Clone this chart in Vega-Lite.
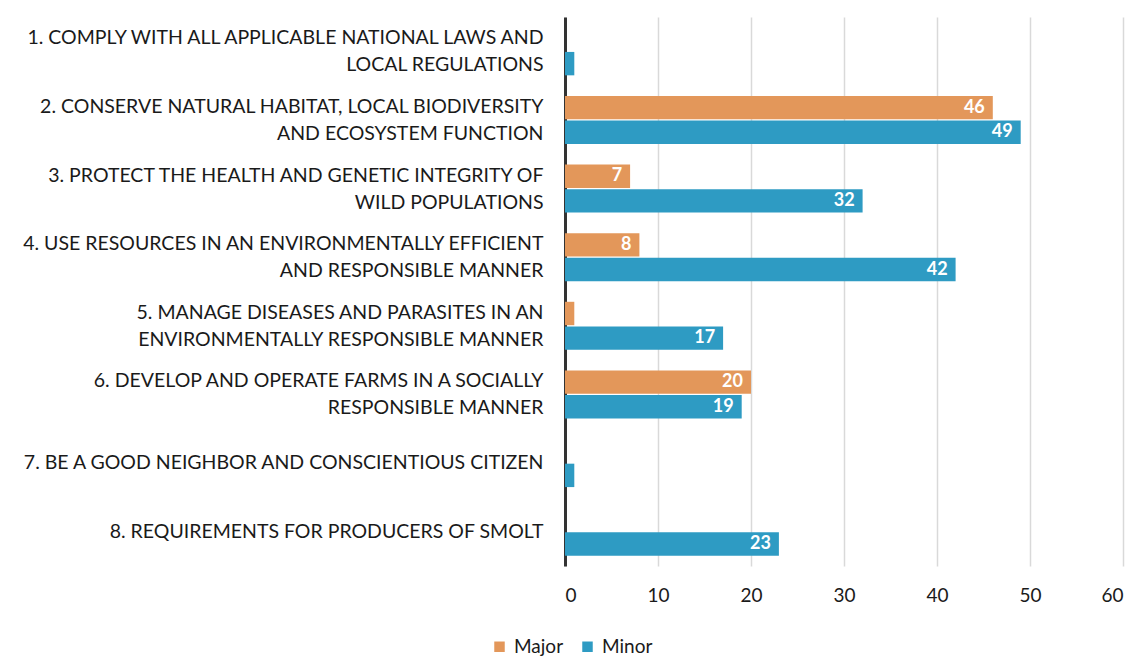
{
  "$schema": "https://vega.github.io/schema/vega-lite/v6.json",
  "width": 558,
  "height": 549,
  "autosize": {"type": "none"},
  "padding": {"left": 565, "top": 17, "right": 14, "bottom": 91},
  "background": "white",
  "config": {
    "view": {"stroke": null},
    "font": "Lato",
    "axis": {"labelFont": "Lato", "labelColor": "#1a1a1a"},
    "legend": {"labelFont": "Lato"}
  },
  "data": {
    "values": [
      {"category": "1. COMPLY WITH ALL APPLICABLE NATIONAL LAWS AND|LOCAL REGULATIONS", "series": "Major", "value": 0},
      {"category": "1. COMPLY WITH ALL APPLICABLE NATIONAL LAWS AND|LOCAL REGULATIONS", "series": "Minor", "value": 1},
      {"category": "2. CONSERVE NATURAL HABITAT, LOCAL BIODIVERSITY|AND ECOSYSTEM FUNCTION", "series": "Major", "value": 46},
      {"category": "2. CONSERVE NATURAL HABITAT, LOCAL BIODIVERSITY|AND ECOSYSTEM FUNCTION", "series": "Minor", "value": 49},
      {"category": "3. PROTECT THE HEALTH AND GENETIC INTEGRITY OF|WILD POPULATIONS", "series": "Major", "value": 7},
      {"category": "3. PROTECT THE HEALTH AND GENETIC INTEGRITY OF|WILD POPULATIONS", "series": "Minor", "value": 32},
      {"category": "4. USE RESOURCES IN AN ENVIRONMENTALLY EFFICIENT|AND RESPONSIBLE MANNER", "series": "Major", "value": 8},
      {"category": "4. USE RESOURCES IN AN ENVIRONMENTALLY EFFICIENT|AND RESPONSIBLE MANNER", "series": "Minor", "value": 42},
      {"category": "5. MANAGE DISEASES AND PARASITES IN AN|ENVIRONMENTALLY RESPONSIBLE MANNER", "series": "Major", "value": 1},
      {"category": "5. MANAGE DISEASES AND PARASITES IN AN|ENVIRONMENTALLY RESPONSIBLE MANNER", "series": "Minor", "value": 17},
      {"category": "6. DEVELOP AND OPERATE FARMS IN A SOCIALLY|RESPONSIBLE MANNER", "series": "Major", "value": 20},
      {"category": "6. DEVELOP AND OPERATE FARMS IN A SOCIALLY|RESPONSIBLE MANNER", "series": "Minor", "value": 19},
      {"category": "7. BE A GOOD NEIGHBOR AND CONSCIENTIOUS CITIZEN", "series": "Major", "value": 0},
      {"category": "7. BE A GOOD NEIGHBOR AND CONSCIENTIOUS CITIZEN", "series": "Minor", "value": 1},
      {"category": "8. REQUIREMENTS FOR PRODUCERS OF SMOLT", "series": "Major", "value": 0},
      {"category": "8. REQUIREMENTS FOR PRODUCERS OF SMOLT", "series": "Minor", "value": 23}
    ]
  },
  "encoding": {
    "y": {
      "field": "category",
      "type": "nominal",
      "sort": null,
      "scale": {"paddingInner": 0.3, "paddingOuter": 0.15},
      "axis": {
        "title": null,
        "labelExpr": "split(datum.label, '|')",
        "labelFontSize": 19.5,
        "labelLineHeight": 27,
        "labelLimit": 600,
        "labelPadding": 22,
        "labelOffset": {"condition": {"test": "indexof(datum.value, '|') >= 0", "value": -13}, "value": 0},
        "ticks": false,
        "domainColor": "#333333",
        "domainWidth": 3
      }
    },
    "yOffset": {"field": "series", "type": "nominal", "sort": ["Major", "Minor"], "scale": {"paddingInner": 0.05}},
    "x": {
      "field": "value",
      "type": "quantitative",
      "scale": {"domain": [0, 60], "nice": false},
      "axis": {
        "title": null,
        "values": [0, 10, 20, 30, 40, 50, 60],
        "labelOverlap": false,
        "labelFontSize": 19,
        "labelPadding": 20,
        "domain": false,
        "ticks": false,
        "gridColor": "#d9d9d9",
        "gridWidth": 1.5,
        "labelColor": "#1a1a1a"
      }
    }
  },
  "layer": [
    {
      "mark": {"type": "bar"},
      "encoding": {
        "color": {
          "field": "series",
          "type": "nominal",
          "scale": {"domain": ["Major", "Minor"], "range": ["#E3975A", "#2E9BC3"]},
          "legend": {
            "title": null,
            "orient": "none",
            "legendX": -75,
            "legendY": 620,
            "direction": "horizontal",
            "symbolType": "square",
            "symbolSize": 110,
            "labelFontSize": 19,
            "labelColor": "#1a1a1a",
            "columnPadding": 14,
            "labelOffset": 5
          }
        }
      }
    },
    {
      "transform": [{"filter": "datum.value >= 2"}],
      "mark": {"type": "text", "align": "right", "dx": -8, "color": "white", "fontWeight": "bold", "fontSize": 18, "baseline": "middle"},
      "encoding": {"text": {"field": "value", "type": "quantitative"}}
    }
  ]
}
